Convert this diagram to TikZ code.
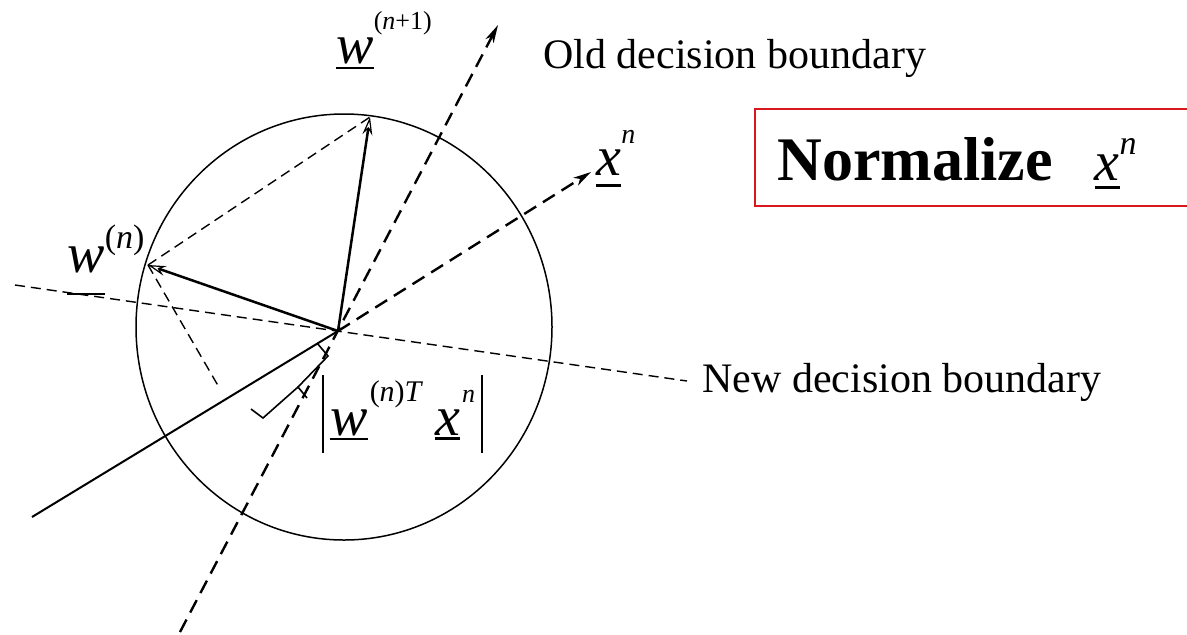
\documentclass[tikz,border=0pt]{standalone}
\usepackage{fontspec}
\setmainfont{Liberation Serif}
\usetikzlibrary{arrows.meta}
\definecolor{boxred}{RGB}{215,25,30}

% underlined italic vector letter: [gap]{letter}
\newcommand\uvec[2][2pt]{\vtop{\hbox{\fontsize{28}{28}\selectfont\itshape #2}\kern#1\hrule height 1.3pt}}
\newcommand\supr[3][13]{\raisebox{#2}{\fontsize{#1}{#1}\selectfont #3}}
\newcommand\absbar{\rule[-9pt]{1pt}{39pt}}

\begin{document}
\begin{tikzpicture}[x=0.5pt, y=-0.5pt,
  vecarrow/.style={line width=1.25pt, -{Stealth[open,length=9pt,width=5pt,inset=3pt,line width=0.6pt]}},
  axisdash/.style={line width=1.2pt, dash pattern=on 7pt off 4pt},
  thindash/.style={line width=0.7pt, dash pattern=on 5pt off 3pt},
  axisarrow/.style={-{Stealth[length=9pt,width=4.5pt,inset=2.5pt]}},
  lab/.style={anchor=base west, inner sep=0pt, font=\fontsize{21}{25}\selectfont}]
  \useasboundingbox (0,0) rectangle (1187,634);

  \coordinate (O) at (338,331);
  \coordinate (C) at (344,327);
  \coordinate (wn) at (148,265);
  \coordinate (wnp) at (370,117);
  \coordinate (xn) at (591,172);
  \coordinate (xneg) at (32,517);
  \coordinate (ob1) at (180,632);
  \coordinate (ob2) at (498,25);
  \coordinate (nb1) at (15,285);
  \coordinate (nb2) at (687,381);
  \coordinate (foot) at (220,389);

  % unit circle
  \draw[line width=0.75pt] (C) ellipse [x radius=208, y radius=213];

  % decision boundaries
  \draw[axisdash, axisarrow] (ob1) -- (ob2);
  \draw[thindash] (nb1) -- (nb2);

  % x^n direction
  \draw[axisdash, axisarrow] (O) -- (xn);
  \draw[line width=1pt] (xneg) -- (O);

  % weight vectors
  \draw[vecarrow] (O) -- (wn);
  \draw[vecarrow] (O) -- (wnp);
  \draw[thindash] (wn) -- (wnp);
  \draw[thindash] (wn) -- (foot);

  % projection marker
  \draw[line width=0.8pt] (317,343) -- (328,356) -- (298,387) -- (307,398);
  \draw[line width=0.8pt] (298,387) -- (263,418) -- (251,409);

  % labels
  \node[lab] (wnplab) at (336,63) {\uvec[1.5pt]{w}\supr{17pt}{(\textit{n}+1)}};
  \node[lab] (wnlab) at (67,272) {\uvec[10pt]{w}\supr[17]{12pt}{(\textit{n})}};
  \node[lab] (xnlab) at (596,175) {\uvec[4.5pt]{x}\supr[14]{16pt}{\textit{n}}};
  \node[lab] (oldlab) at (543,68) {Old decision boundary};
  \node[lab] (newlab) at (702,392) {New decision boundary};
  \node[lab] (projlab) at (322,435) {\absbar\hspace{3pt}\uvec[1pt]{w}\hspace{1pt}\supr[15]{17pt}{(\textit{n})\textit{T}}\hspace{6pt}\uvec[1pt]{x}\hspace{1pt}\supr{16.5pt}{\textit{n}}\hspace{3pt}\absbar};

  % normalize box
  \node[lab] (normlab) at (777,180) {{\fontsize{31}{31}\selectfont\bfseries Normalize}\hspace{21pt}\uvec[3pt]{x}\supr[17]{13pt}{\textit{n}}};
  \draw[boxred, line width=0.8pt] (1187,109) -- (755,109) -- (755,206) -- (1187,206);
\end{tikzpicture}
\end{document}
